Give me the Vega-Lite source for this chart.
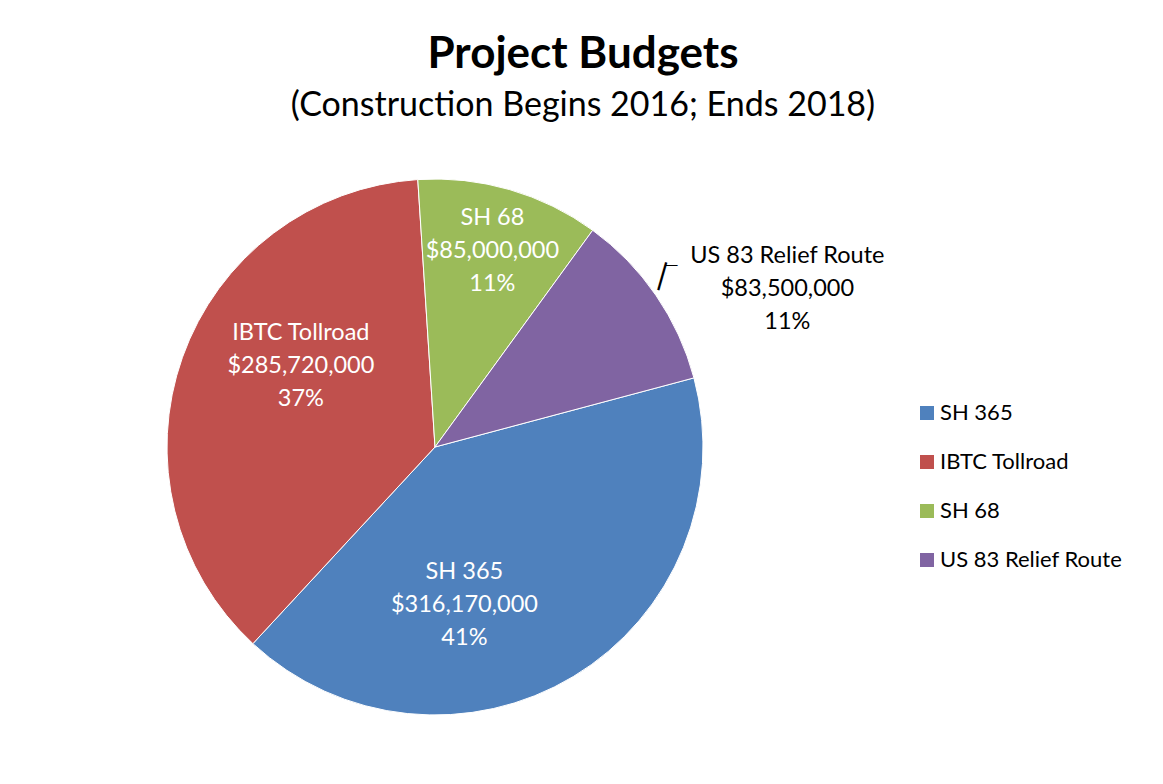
{
  "$schema": "https://vega.github.io/schema/vega-lite/v6.json",
  "width": 536,
  "height": 536,
  "autosize": {"type": "none"},
  "padding": {"left": 167, "top": 179, "right": 460, "bottom": 69},
  "background": "white",
  "config": {"view": {"stroke": null}, "font": "Lato"},
  "title": {
    "text": "Project Budgets",
    "subtitle": "(Construction Begins 2016; Ends 2018)",
    "font": "Lato",
    "subtitleFont": "Lato",
    "fontSize": 44,
    "fontWeight": "bold",
    "subtitleFontSize": 34,
    "color": "black",
    "subtitleColor": "black",
    "anchor": "middle",
    "dx": 148,
    "offset": -29,
    "subtitlePadding": 12
  },
  "data": {
    "values": [
      {"idx": 1, "project": "SH 365", "budget": 316170000, "label": "SH 365\n$316,170,000\n41%"},
      {"idx": 2, "project": "IBTC Tollroad", "budget": 285720000, "label": "IBTC Tollroad\n$285,720,000\n37%"},
      {"idx": 3, "project": "SH 68", "budget": 85000000, "label": "SH 68\n$85,000,000\n11%"},
      {"idx": 4, "project": "US 83 Relief Route", "budget": 83500000, "label": "US 83 Relief Route\n$83,500,000\n11%"}
    ]
  },
  "encoding": {
    "theta": {"field": "budget", "type": "quantitative", "stack": true, "scale": {"range": [1.31, 7.5932]}},
    "order": {"field": "idx", "type": "ordinal"}
  },
  "layer": [
    {
      "mark": {"type": "arc", "stroke": "white", "strokeWidth": 1},
      "encoding": {
        "color": {
          "field": "project",
          "type": "nominal",
          "scale": {
            "domain": ["SH 365", "IBTC Tollroad", "SH 68", "US 83 Relief Route"],
            "range": ["#4F81BD", "#C0504D", "#9BBB59", "#8064A2"]
          },
          "legend": {
            "orient": "none",
            "legendX": 749,
            "legendY": 223,
            "title": null,
            "labelFont": "Lato",
            "labelFontSize": 22,
            "labelColor": "black",
            "labelLimit": 400,
            "symbolType": "square",
            "symbolSize": 196,
            "symbolStrokeWidth": 0,
            "rowPadding": 27,
            "labelOffset": 2
          }
        }
      }
    },
    {
      "mark": {"type": "text", "radius": 150, "dx": -48, "dy": -3, "color": "white", "fontSize": 23.5, "lineBreak": "\n", "lineHeight": 33, "baseline": "middle"},
      "encoding": {"text": {"condition": {"test": "datum.project === 'SH 365'", "field": "label"}, "value": ""}}
    },
    {
      "mark": {"type": "text", "radius": 154, "dx": 11, "dy": -62, "color": "white", "fontSize": 23.5, "lineBreak": "\n", "lineHeight": 33, "baseline": "middle"},
      "encoding": {"text": {"condition": {"test": "datum.project === 'IBTC Tollroad'", "field": "label"}, "value": ""}}
    },
    {
      "mark": {"type": "text", "radius": 206, "dy": -31, "color": "white", "fontSize": 23.5, "lineBreak": "\n", "lineHeight": 33, "baseline": "middle"},
      "encoding": {"text": {"condition": {"test": "datum.project === 'SH 68'", "field": "label"}, "value": ""}}
    },
    {
      "mark": {"type": "text", "radius": 380, "dx": 39, "dy": 24, "color": "black", "fontSize": 23.5, "lineBreak": "\n", "lineHeight": 33, "baseline": "middle"},
      "encoding": {"text": {"condition": {"test": "datum.project === 'US 83 Relief Route'", "field": "label"}, "value": ""}}
    },
    {
      "mark": {"type": "text", "radius": 283, "dx": 8.5, "dy": -10, "angle": -74, "font": "DejaVu Sans", "fontSize": 32, "color": "black", "baseline": "middle", "align": "center"},
      "encoding": {"text": {"condition": {"test": "datum.project === 'US 83 Relief Route'", "value": "—"}, "value": ""}}
    },
    {
      "mark": {"type": "text", "radius": 283, "dx": 3, "dy": -22, "font": "DejaVu Sans", "fontSize": 14, "color": "black", "baseline": "middle", "align": "center"},
      "encoding": {"text": {"condition": {"test": "datum.project === 'US 83 Relief Route'", "value": "—"}, "value": ""}}
    }
  ]
}
